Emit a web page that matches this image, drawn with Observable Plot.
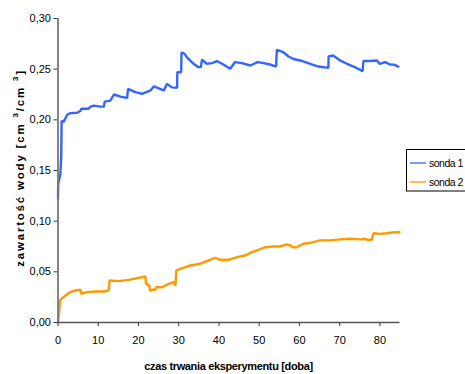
<!DOCTYPE html>
<html>
<head>
<meta charset="utf-8">
<script src="https://cdn.jsdelivr.net/npm/d3@7"></script>
<script src="https://cdn.jsdelivr.net/npm/@observablehq/plot@0.6"></script>
<style>
  body { margin: 0; background: #fff; }
  #chart svg { display: block; }
</style>
</head>
<body>
<div id="chart"></div>
<script>
// Soil water content measured by two probes over the experiment (days)
const sonda1Days = [0, 0.05, 0.4, 0.6, 0.8, 0.9, 1.4, 1.9, 2.3, 3.1, 4.8, 5.6, 5.8, 7.6, 8.1, 8.9, 10.5, 11.4,
  11.6, 13, 13.9, 15.9, 17.2, 17.4, 19.2, 20.9, 23, 23.8, 26.3, 27.1, 28.3, 29.6, 29.65, 30.6, 30.7, 31.5,
  32, 33.7, 34.9, 35.5, 35.8, 37, 38.3, 39.5, 41.1, 42.8, 44, 45.7, 47.8, 49.6, 51.1, 52.7, 54.2, 54.4,
  56, 57.3, 58.5, 60.2, 62.7, 64.7, 67.2, 67.25, 68.4, 70.1, 71.8, 73.8, 75.7, 75.9, 77.5, 79.2, 80, 81.3,
  82.5, 83.5, 84.6];
const sonda1Values = [0.122, 0.137, 0.143, 0.147, 0.165, 0.199, 0.198, 0.202, 0.205, 0.2066, 0.207, 0.209, 0.211, 0.211, 0.213, 0.214, 0.213, 0.213,
  0.218, 0.219, 0.225, 0.2225, 0.2217, 0.2306, 0.2273, 0.2257, 0.229, 0.233, 0.229, 0.2355, 0.232, 0.2316, 0.247, 0.247, 0.2667, 0.265,
  0.2618, 0.2553, 0.252, 0.252, 0.2593, 0.2553, 0.256, 0.258, 0.2546, 0.2504, 0.257, 0.256, 0.2536, 0.257, 0.256, 0.2546, 0.2526, 0.269,
  0.2667, 0.2625, 0.260, 0.2586, 0.2553, 0.2526, 0.2513, 0.2625, 0.2635, 0.2586, 0.2553, 0.252, 0.248, 0.258, 0.258, 0.2586, 0.2553, 0.257,
  0.2546, 0.2545, 0.2526];

const sonda2Days = [0, 0.2, 0.5, 0.9, 1.9, 3.1, 4.3, 5.6, 5.8, 7.2, 9.3, 11.4, 12.6, 12.8, 15.1, 17.6, 20, 21.7,
  21.9, 22.7, 22.9, 23.4, 24.2, 24.4, 25.9, 27.5, 28.7, 29.2, 29.4, 30.4, 32.9, 35.4, 37.8, 39.1, 40.3, 42.4,
  44.5, 46.5, 48.2, 49.8, 51.5, 53.5, 55.2, 56.9, 57.7, 58.4, 59.3, 61, 62.7, 65.1, 67.6, 70.1, 72.6, 75.1,
  76.3, 76.9, 78, 78.4, 80, 81.7, 83.7, 84.9];
const sonda2Values = [0.0003, 0.007, 0.0217, 0.0234, 0.0266, 0.030, 0.0316, 0.0323, 0.0283, 0.030, 0.0306, 0.0306, 0.0316, 0.0414, 0.0408, 0.0421, 0.0441, 0.0454,
  0.0382, 0.0365, 0.031, 0.0323, 0.0323, 0.0348, 0.0348, 0.0382, 0.0398, 0.0365, 0.0513, 0.053, 0.0563, 0.058, 0.0619, 0.0639, 0.0619, 0.0619,
  0.0645, 0.0661, 0.0694, 0.0717, 0.0743, 0.075, 0.075, 0.077, 0.076, 0.0743, 0.0743, 0.0777, 0.0786, 0.081, 0.081, 0.082, 0.0826, 0.082,
  0.0826, 0.0816, 0.0816, 0.0881, 0.0875, 0.0881, 0.089, 0.089];

const xTicks = [0, 10, 20, 30, 40, 50, 60, 70, 80];
const yTicks = [0, 0.05, 0.10, 0.15, 0.20, 0.25, 0.30];
const seriesNames = ["sonda 1", "sonda 2"];
const seriesColors = ["#3366ff", "#ff9900"];

const rows = [
  ...sonda1Days.map((d, i) => ({series: seriesNames[0], day: d, value: sonda1Values[i]})),
  ...sonda2Days.map((d, i) => ({series: seriesNames[1], day: d, value: sonda2Values[i]}))
];

const font = "'Liberation Sans Narrow', 'Arial Narrow', 'Liberation Sans', Arial, sans-serif";

const chart = Plot.plot({
  width: 465,
  height: 374,
  marginLeft: 57.5,
  marginRight: 65.5,
  marginTop: 18,
  marginBottom: 52,
  style: {fontFamily: font, fontSize: "11px", color: "#000", background: "#fff", overflow: "visible"},
  x: {domain: [0, 85]},
  y: {domain: [0, 0.30]},
  color: {domain: seriesNames, range: seriesColors},
  marks: [
    Plot.line(rows, {x: "day", y: "value", z: "series", stroke: "series", strokeWidth: 2.4, strokeLinejoin: "miter"}),
    Plot.axisX({ticks: xTicks, tickFormat: d => String(d), tickSize: 4, tickPadding: 10, label: null, stroke: "#333"}),
    Plot.axisY({ticks: yTicks, tickFormat: d => d.toFixed(2).replace(".", ","), tickSize: 4, tickPadding: 3, label: null, stroke: "#333"}),
    Plot.ruleX([0], {stroke: "#777", strokeWidth: 1.8}),
    Plot.ruleY([0], {stroke: "#555", strokeWidth: 1.5})
  ]
});

document.getElementById("chart").appendChild(chart);

const svg = d3.select(chart);

// x axis title
svg.append("text")
  .attr("x", 228.5).attr("y", 370)
  .attr("text-anchor", "middle")
  .attr("font-family", font).attr("font-size", 11).attr("font-weight", "bold")
  .attr("letter-spacing", "-0.35px")
  .attr("fill", "#000")
  .text("czas trwania eksperymentu [doba]");

// y axis title with superscript exponents
const yTitle = svg.append("text")
  .attr("transform", "translate(24,168) rotate(-90)")
  .attr("text-anchor", "middle")
  .attr("font-family", font).attr("font-size", 11.5).attr("font-weight", "bold")
  .attr("letter-spacing", "1.8px")
  .attr("fill", "#000");
yTitle.append("tspan").text("zawartość wody [cm ");
yTitle.append("tspan").attr("dy", -6).attr("font-size", 8).text("3");
yTitle.append("tspan").attr("dy", 6).text("/cm ");
yTitle.append("tspan").attr("dy", -6).attr("font-size", 8).text("3");
yTitle.append("tspan").attr("dy", 6).text("]");

// legend box
const legend = svg.append("g").attr("text-anchor", "start");
legend.append("rect")
  .attr("x", 406.5).attr("y", 149.5).attr("width", 70).attr("height", 41.5)
  .attr("fill", "#fff").attr("stroke", "#000").attr("stroke-width", 1);
seriesNames.forEach((name, i) => {
  const y = 163 + i * 19;
  legend.append("line")
    .attr("x1", 410).attr("x2", 426).attr("y1", y).attr("y2", y)
    .attr("stroke", seriesColors[i]).attr("stroke-width", 1.3);
  legend.append("text")
    .attr("x", 429).attr("y", y + 4)
    .attr("text-anchor", "start")
    .attr("font-family", font).attr("font-size", 10.5)
    .attr("letter-spacing", "-0.5px")
    .attr("fill", "#000")
    .text(name);
});
</script>
</body>
</html>
